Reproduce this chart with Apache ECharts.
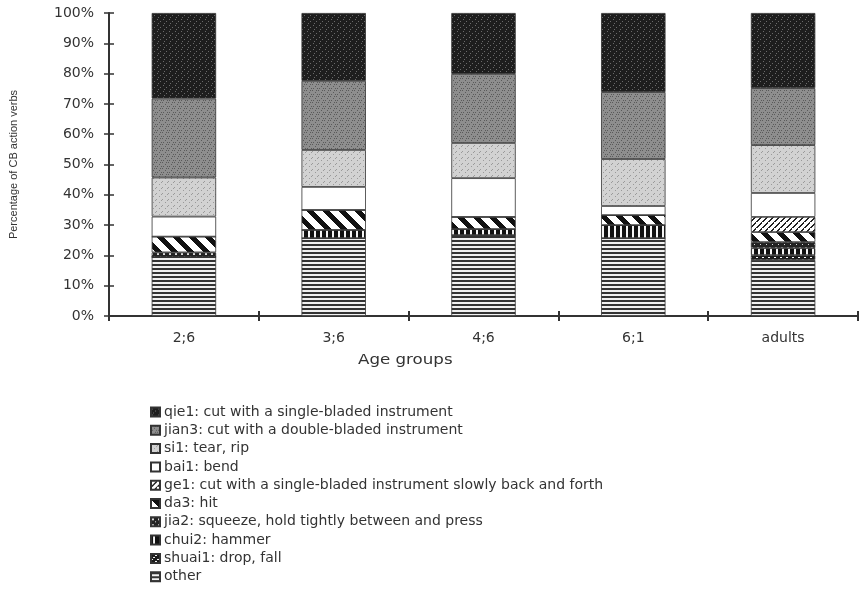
<!DOCTYPE html>
<html><head><meta charset="utf-8">
<script src="https://cdn.jsdelivr.net/npm/echarts@6/dist/echarts.min.js"></script>
<style>html,body{margin:0;padding:0;background:#fff}#c{width:860px;height:589px}</style>
</head><body><div id="c"></div>
<script>
const categories = ['2;6', '3;6', '4;6', '6;1', 'adults'];
const yTicks = [0, 10, 20, 30, 40, 50, 60, 70, 80, 90, 100];
// segment sizes (percent), bottom to top
const other  = [19.5, 25.7, 26.7, 25.7, 18.5];
const shuai1 = [0, 0, 0, 0, 1.6];
const chui2  = [0, 2.7, 2.0, 4.3, 2.3];
const jia2   = [1.5, 0, 0, 0, 2.0];
const da3    = [5.2, 6.6, 4.0, 3.3, 3.3];
const ge1    = [0, 0, 0, 0, 5.0];
const bai1   = [6.6, 7.6, 12.8, 3.0, 7.9];
const si1    = [12.9, 12.2, 11.6, 15.5, 15.8];
const jian3  = [26.1, 22.8, 22.8, 22.1, 18.8];
const qie1   = [28.2, 22.4, 20.1, 26.1, 24.8];

const names = {
  qie1: 'qie1: cut with a single-bladed instrument',
  jian3: 'jian3: cut with a double-bladed instrument',
  si1: 'si1: tear, rip',
  bai1: 'bai1: bend',
  ge1: 'ge1: cut with a single-bladed instrument slowly back and forth',
  da3: 'da3: hit',
  jia2: 'jia2: squeeze, hold tightly between and press',
  chui2: 'chui2: hammer',
  shuai1: 'shuai1: drop, fall',
  other: 'other'
};

function pat(w, h, draw) {
  const c = document.createElement('canvas');
  c.width = w; c.height = h;
  const g = c.getContext('2d');
  draw(g, w, h);
  return { image: c, repeat: 'repeat' };
}
function speck(g, w, h, bg, fg, pts) {
  g.fillStyle = bg; g.fillRect(0, 0, w, h);
  g.fillStyle = fg;
  pts.forEach(p => g.fillRect(p[0], p[1], 1, 1));
}
const patterns = {
  qie1: pat(6, 6, (g, w, h) => speck(g, w, h, '#1e1e1e', '#6a6a6a', [[1,1],[4,3],[2,5]])),
  jian3: pat(6, 6, (g, w, h) => speck(g, w, h, '#8e8e8e', '#5a5a5a', [[0,0],[3,2],[5,4],[1,4],[4,0]])),
  si1: pat(6, 6, (g, w, h) => speck(g, w, h, '#d2d2d2', '#9a9a9a', [[0,1],[3,4],[5,2]])),
  bai1: pat(4, 4, (g, w, h) => { g.fillStyle = '#ffffff'; g.fillRect(0, 0, w, h); }),
  ge1: pat(6, 6, (g, w, h) => {
    g.fillStyle = '#ffffff'; g.fillRect(0, 0, w, h);
    g.fillStyle = '#222';
    for (let i = 0; i < 6; i++) { g.fillRect((i) % 6, 5 - i, 2, 1); }
  }),
  da3: pat(16, 16, (g, w, h) => {
    g.fillStyle = '#ffffff'; g.fillRect(0, 0, w, h);
    g.fillStyle = '#111';
    for (let y = 0; y < 16; y++) for (let x = 0; x < 16; x++) {
      if (((x - y + 32) % 16) < 7) g.fillRect(x, y, 1, 1);
    }
  }),
  jia2: pat(6, 6, (g, w, h) => {
    g.fillStyle = '#222'; g.fillRect(0, 0, w, h);
    g.fillStyle = '#ddd'; g.fillRect(1, 1, 2, 2); g.fillRect(4, 4, 1, 1);
  }),
  chui2: pat(6, 6, (g, w, h) => {
    g.fillStyle = '#111'; g.fillRect(0, 0, w, h);
    g.fillStyle = '#f4f4f4'; g.fillRect(2, 0, 2, h);
  }),
  shuai1: pat(6, 6, (g, w, h) => {
    g.fillStyle = '#1a1a1a'; g.fillRect(0, 0, w, h);
    g.fillStyle = '#ffffff';
    for (let i = 0; i < 3; i++) g.fillRect(i * 2, 5 - i * 2, 2, 1);
  }),
  other: pat(4, 4, (g, w, h) => {
    g.fillStyle = '#f0f0f0'; g.fillRect(0, 0, w, h);
    g.fillStyle = '#333'; g.fillRect(0, 0, w, 2);
  })
};

const order = [
  ['other', other], ['shuai1', shuai1], ['chui2', chui2], ['jia2', jia2], ['da3', da3],
  ['ge1', ge1], ['bai1', bai1], ['si1', si1], ['jian3', jian3], ['qie1', qie1]
];

const series = order.map(([k, arr]) => ({
  name: names[k],
  type: 'bar',
  stack: 'total',
  xAxisIndex: 0, yAxisIndex: 0,
  barWidth: '43%',
  data: arr,
  itemStyle: { color: patterns[k], borderColor: '#333', borderWidth: 0.8 },
  emphasis: { disabled: true }
}));

const legendOrder = ['qie1', 'jian3', 'si1', 'bai1', 'ge1', 'da3', 'jia2', 'chui2', 'shuai1', 'other'].map(k => names[k]);

const font = 'DejaVu Sans, Liberation Sans, sans-serif';
const chart = echarts.init(document.getElementById('c'), null, { renderer: 'canvas' });
chart.setOption({
  animation: false,
  backgroundColor: '#ffffff',
  grid: { left: 108, right: 2, top: 13, bottom: 273, containLabel: false },
  xAxis: [{
    type: 'category', data: categories,
    axisLine: { lineStyle: { color: '#333', width: 2 } },
    axisTick: { show: true, length: 5, lineStyle: { color: '#333', width: 2 } },
    axisLabel: { fontFamily: font, fontSize: 14, color: '#333', margin: 15 },
    splitLine: { show: false }
  }, {
    type: 'category', data: categories, position: 'bottom', offset: 0,
    axisLine: { show: false },
    axisTick: { show: true, inside: true, length: 5, lineStyle: { color: '#333', width: 2 } },
    axisLabel: { show: false }
  }],
  yAxis: [{
    type: 'value', min: 0, max: 100, interval: 10,
    axisLine: { show: true, lineStyle: { color: '#333', width: 2 } },
    axisTick: { show: true, length: 5, lineStyle: { color: '#333', width: 1.5 } },
    axisLabel: { fontFamily: font, fontSize: 14, color: '#333', margin: 15,
      formatter: v => yTicks.includes(v) ? v + '%' : '' },
    splitLine: { show: false },
    name: 'Percentage of CB action verbs', nameLocation: 'middle', nameGap: 90,
    nameTextStyle: { fontFamily: 'Liberation Sans, Arial, sans-serif', fontSize: 11, color: '#333' }
  }, {
    type: 'value', min: 0, max: 100, interval: 10, position: 'left', offset: 0,
    axisLine: { show: false },
    axisTick: { show: true, inside: true, length: 5, lineStyle: { color: '#333', width: 1.5 } },
    axisLabel: { show: false }, splitLine: { show: false }
  }],
  legend: {
    orient: 'vertical', left: 150, top: 405, height: 184,
    padding: 0,
    data: legendOrder,
    itemWidth: 9, itemHeight: 9, itemGap: 4.3,
    icon: 'rect',
    selectedMode: false,
    textStyle: { fontFamily: font, fontSize: 14, color: '#333', padding: [0, 0, 0, -1] }
  },
  graphic: [{
    type: 'text', x: 358, y: 353, scaleX: 1.19,
    style: { text: 'Age groups', font: '14px ' + font, fill: '#333' }
  }],
  series: series
});
</script></body></html>
